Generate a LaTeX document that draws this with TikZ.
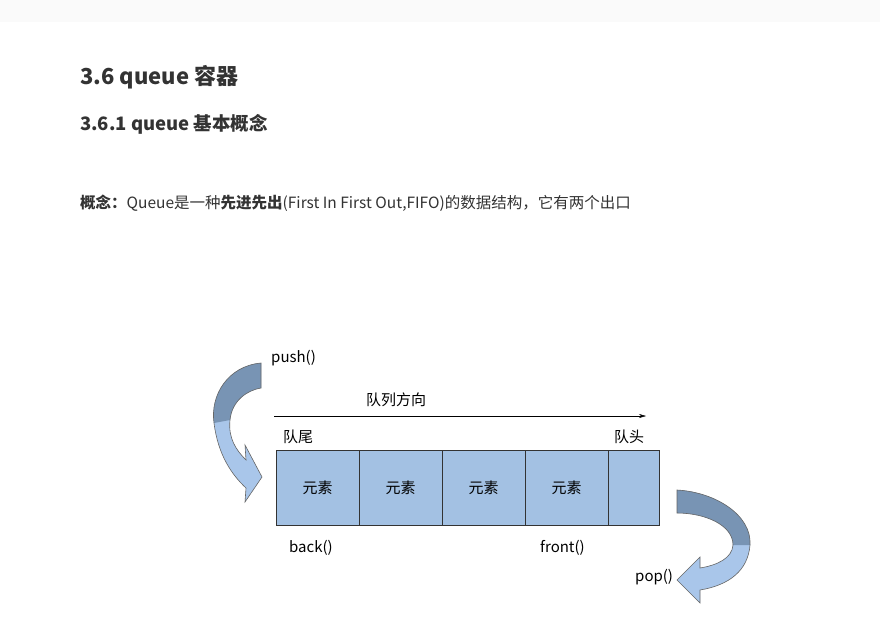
\documentclass[tikz,border=0pt]{standalone}
\usepackage{fontspec}
\setmainfont{Noto Sans CJK SC}
\usepackage{xcolor}
\definecolor{cell}{HTML}{A3C1E3}
\definecolor{darkband}{HTML}{7894B4}
\definecolor{lightband}{HTML}{A9C6EA}
\definecolor{ink}{HTML}{333333}
\usepackage{tikz}
\usetikzlibrary{arrows.meta}
\tikzset{
    elem/.style = {
      draw = black!80,
      fill = cell,
      minimum width = 83pt,
      minimum height = 75pt,
      inner sep = 0pt,
      anchor = north west,
      font = \fontsize{15}{17}\selectfont
    },
    label/.style = {
      anchor = west,
      inner sep = 0pt,
      font = \fontsize{15}{17}\selectfont
    },
    band/.style = {
      draw = black!60,
      line width = 0.6pt
    }
}
\begin{document}
\begin{tikzpicture}[x=1pt, y=-1pt]
      \useasboundingbox (0,0) rectangle (880,622);
      \fill[white] (0,0) rectangle (880,622);
      \fill[black!2] (0,0) rectangle (880,22);

      \node[label, font=\fontsize{22}{26}\selectfont\bfseries, text=ink] (H1) at (80,77) {3.6 queue 容器};
      \node[label, font=\fontsize{18.5}{22}\selectfont\bfseries, text=ink] (H2) at (80,124) {3.6.1 queue 基本概念};
      \node[label, font=\fontsize{15.5}{18}\selectfont, text=ink] (C) at (80,203) {\textbf{概念：}Queue是一种\textbf{先进先出}(First In First Out,FIFO)的数据结构，它有两个出口};

      \node[elem] (E1) at (276,450) {元素};
      \node[elem] (E2) at (359,450) {元素};
      \node[elem] (E3) at (442,450) {元素};
      \node[elem] (E4) at (525,450) {元素};
      \node[elem, minimum width=51pt] (E5) at (608,450) {};

      \coordinate (A) at (274,416);
      \coordinate (B) at (646,416);
      \draw[-{Stealth[length=7pt,width=4pt]}] (A) -- (B);
      \node[label] (dir) at (366,400) {队列方向};
      \node[label] (tail) at (283,437) {队尾};
      \node[label] (head) at (614,437) {队头};
      \node[label] (back) at (289,548) {back()};
      \node[label] (front) at (540,548) {front()};
      \node[label] (push) at (271,358) {push()};
      \node[label] (pop) at (635,577) {pop()};

      % push arrow
      \fill[lightband] (261,363) .. controls (228,366) and (210,395) .. (214,423)
        .. controls (218,455) and (232,475) .. (246,488) -- (245,502) -- (262,477)
        -- (245,445) -- (246,460) .. controls (236,450) and (228,438) .. (230,420)
        .. controls (232,400) and (248,390) .. (261,388) -- cycle;
      \fill[darkband] (261,363) .. controls (228,366) and (210,395) .. (214,423)
        -- (230,420) .. controls (232,400) and (248,390) .. (261,388) -- cycle;
      \draw[band] (261,363) .. controls (228,366) and (210,395) .. (214,423)
        .. controls (218,455) and (232,475) .. (246,488) -- (245,502) -- (262,477)
        -- (245,445) -- (246,460) .. controls (236,450) and (228,438) .. (230,420)
        .. controls (232,400) and (248,390) .. (261,388) -- cycle;

      % pop arrow
      \fill[lightband] (677,490) .. controls (715,492) and (752,515) .. (750,545)
        .. controls (748,570) and (730,585) .. (700,590) -- (700,603) -- (677,580)
        -- (700,557) -- (700,568) .. controls (718,565) and (732,558) .. (733,545)
        .. controls (733,525) and (705,513) .. (677,513) -- cycle;
      \fill[darkband] (677,490) .. controls (715,492) and (752,515) .. (750,545)
        -- (733,545) .. controls (733,525) and (705,513) .. (677,513) -- cycle;
      \draw[band] (677,490) .. controls (715,492) and (752,515) .. (750,545)
        .. controls (748,570) and (730,585) .. (700,590) -- (700,603) -- (677,580)
        -- (700,557) -- (700,568) .. controls (718,565) and (732,558) .. (733,545)
        .. controls (733,525) and (705,513) .. (677,513) -- cycle;
\end{tikzpicture}
\end{document}
